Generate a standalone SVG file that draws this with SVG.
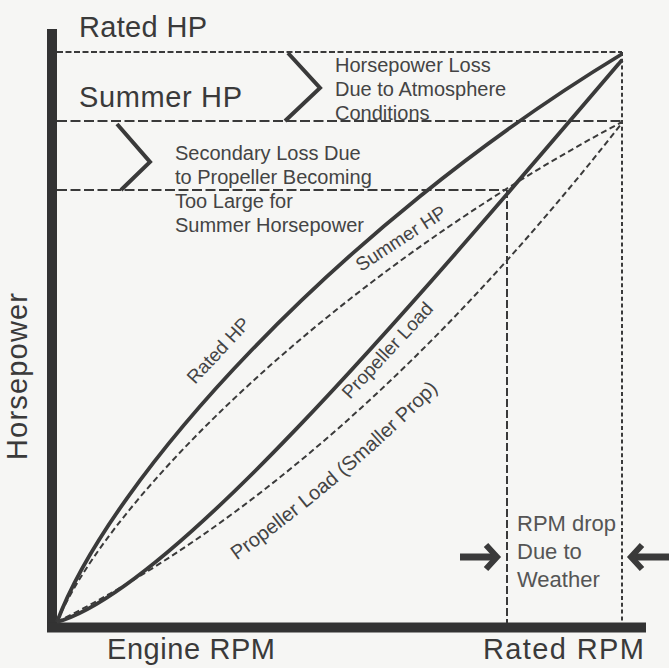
<svg xmlns="http://www.w3.org/2000/svg" width="669" height="668" viewBox="0 0 669 668">
<style>
text{font-family:"Liberation Sans",Arial,sans-serif;fill:#3a3a3a}
.big{font-size:29px}
.note{font-size:20px;fill:#444}
.lab{font-size:19px;fill:#444}
.axis{stroke:#333;stroke-width:10;fill:none}
.solid{stroke:#3a3a3a;stroke-width:3.8;fill:none}
.dcurve{stroke:#3a3a3a;stroke-width:2;fill:none;stroke-dasharray:6 3.5}
.hd1{stroke:#3a3a3a;stroke-width:2;fill:none;stroke-dasharray:6 2.5}
.hd2{stroke:#3a3a3a;stroke-width:2.2;fill:none;stroke-dasharray:10 3.5}
.vd1{stroke:#3a3a3a;stroke-width:2;fill:none;stroke-dasharray:4 2.8}
.vd2{stroke:#3a3a3a;stroke-width:2;fill:none;stroke-dasharray:8 3}
.chev{stroke:#3a3a3a;stroke-width:4;fill:none;stroke-linejoin:miter}
.arr{stroke:#3a3a3a;stroke-width:7;fill:none;stroke-linejoin:miter}
</style>
<rect width="669" height="668" fill="#f6f6f4"/>
<g id="axes">
<line class="axis" x1="52" y1="29" x2="52" y2="632"/>
<line class="axis" x1="47" y1="627.5" x2="646" y2="627.5"/>
</g>
<g id="guides">
<line class="hd1" x1="57" y1="52" x2="622" y2="52"/>
<line class="hd2" x1="57" y1="121" x2="622" y2="121"/>
<line class="hd2" x1="57" y1="190" x2="507" y2="190"/>
<line class="vd1" x1="622" y1="52" x2="622" y2="623"/>
<line class="vd2" x1="507" y1="190" x2="507" y2="623"/>
</g>
<g id="connectors">
<path id="rated" class="solid" d="M57,622 C110,480 335,228 622,54"/>
<path id="summer" class="dcurve" d="M57,622 C110,497 335,274 622,122"/>
<path id="prop" class="solid" d="M57,622 C170,590 400,320 622,60"/>
<path id="smallprop" class="dcurve" d="M57,622 Q343,479 622,123"/>
</g>
<g id="braces">
<polyline class="chev" points="288,53 320,88 285,121"/>
<polyline class="chev" points="117,124 150,162 121,190"/>
</g>
<g id="arrows">
<line class="arr" x1="460" y1="557" x2="494" y2="557"/>
<polyline class="arr" style="stroke-width:6" points="486,545 497,557 486,569"/>
<line class="arr" x1="635" y1="557" x2="669" y2="557"/>
<polyline class="arr" style="stroke-width:6" points="642,545 631,557 642,569"/>
</g>
<g id="titles">
<text class="big" x="79" y="37" textLength="128">Rated HP</text>
<text class="big" x="79" y="107" textLength="163">Summer HP</text>
<text class="big" transform="translate(27,460) rotate(-90)" textLength="167">Horsepower</text>
<text class="big" x="107" y="659" textLength="168">Engine RPM</text>
<text class="big" x="483" y="659" textLength="161">Rated RPM</text>
</g>
<g id="note-atmosphere">
<text class="note" x="335" y="72">Horsepower Loss</text>
<text class="note" x="335" y="96">Due to Atmosphere</text>
<text class="note" x="335" y="120">Conditions</text>
</g>
<g id="note-secondary">
<text class="note" x="175" y="160">Secondary Loss Due</text>
<text class="note" x="175" y="184">to Propeller Becoming</text>
<text class="note" x="175" y="208">Too Large for</text>
<text class="note" x="175" y="232">Summer Horsepower</text>
</g>
<g id="note-rpm">
<text class="note" style="font-size:22px;fill:#555" x="517" y="531">RPM drop</text>
<text class="note" style="font-size:22px;fill:#555" x="517" y="559">Due to</text>
<text class="note" style="font-size:22px;fill:#555" x="517" y="587">Weather</text>
</g>
<g id="curve-labels">
<text class="lab" transform="translate(195,385) rotate(-47)">Rated HP</text>
<text class="lab" transform="translate(361,272) rotate(-33)">Summer HP</text>
<text class="lab" transform="translate(350,400) rotate(-47)">Propeller Load</text>
<path id="splabel" d="M226,568 Q336,492 448,380" fill="none"/>
<text class="lab" style="font-size:20px"><textPath href="#splabel" startOffset="50%" text-anchor="middle">Propeller Load (Smaller Prop)</textPath></text>
</g>
</svg>
